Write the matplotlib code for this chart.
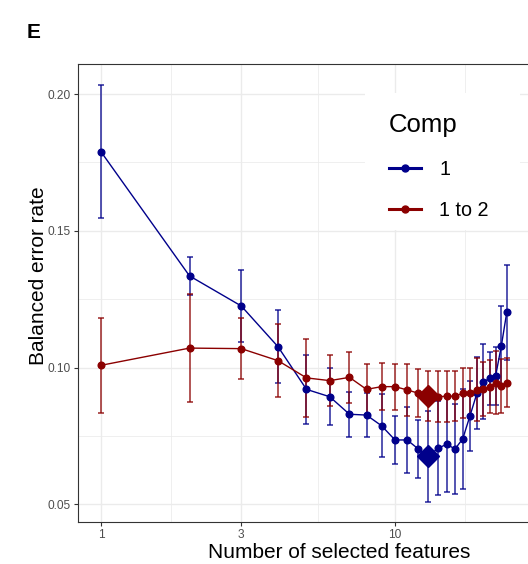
import matplotlib.pyplot as plt
from matplotlib.lines import Line2D
from matplotlib.patches import Rectangle
from matplotlib.ticker import FixedLocator, NullFormatter

plt.rcParams['font.family'] = ['Liberation Sans', 'DejaVu Sans']

# numero de variables seleccionadas
n_features = list(range(1, 25))

# Comp 1
comp1_mean = [0.1789, 0.1335, 0.1225, 0.1076, 0.0920, 0.0893, 0.0829, 0.0826,
              0.0787, 0.0735, 0.0735, 0.0702, 0.0675, 0.0705, 0.0719, 0.0702,
              0.0739, 0.0824, 0.0906, 0.0948, 0.0960, 0.0970, 0.1079, 0.1202]
comp1_sd = [0.0244, 0.0068, 0.0131, 0.0133, 0.0127, 0.0105, 0.0082, 0.0079,
            0.0115, 0.0089, 0.0122, 0.0106, 0.0166, 0.0171, 0.0175, 0.0165,
            0.0183, 0.0128, 0.0131, 0.0137, 0.0097, 0.0106, 0.0147, 0.0173]

# Comp 1 to 2
comp2_mean = [0.1008, 0.1071, 0.1069, 0.1025, 0.0962, 0.0952, 0.0964, 0.0920,
              0.0930, 0.0930, 0.0918, 0.0906, 0.0896, 0.0893, 0.0895, 0.0895,
              0.0906, 0.0908, 0.0918, 0.0920, 0.0930, 0.0944, 0.0933, 0.0944]
comp2_sd = [0.0173, 0.0199, 0.0111, 0.0134, 0.0142, 0.0092, 0.0093, 0.0091,
            0.0085, 0.0084, 0.0095, 0.0087, 0.0093, 0.0093, 0.0093, 0.0092,
            0.0092, 0.0089, 0.0115, 0.0099, 0.0097, 0.0115, 0.0098, 0.0090]

# numero optimo de variables
best_n = 13

series = [('1', comp1_mean, comp1_sd, '#00008B'),
          ('1 to 2', comp2_mean, comp2_sd, '#8B0000')]

fig = plt.figure(figsize=(5.28, 5.64), dpi=100)
# el panel sigue a la derecha fuera de la imagen (recortada)
ax = fig.add_axes([78.3 / 528, 42.3 / 564, (595 - 78.3) / 528, 457.4 / 564])

ax.set_xscale('log')
ax.set_xlim(0.837, 47.9)
ax.set_ylim(0.0436, 0.2109)

ax.xaxis.set_major_locator(FixedLocator([1, 3, 10]))
ax.xaxis.set_minor_locator(FixedLocator([3 ** 0.5, 30 ** 0.5, 300 ** 0.5]))
ax.xaxis.set_major_formatter(plt.FuncFormatter(lambda v, p: f'{v:g}'))
ax.xaxis.set_minor_formatter(NullFormatter())
ax.set_yticks([0.05, 0.10, 0.15, 0.20])
ax.set_yticklabels(['0.05', '0.10', '0.15', '0.20'])
ax.set_yticks([0.075, 0.125, 0.175], minor=True)

ax.grid(True, which='major', color='#EBEBEB', lw=1.0)
ax.grid(True, which='minor', color='#EBEBEB', lw=0.55)
ax.set_axisbelow(True)
ax.tick_params(which='major', length=2.9, width=0.8, color='#333333',
               labelsize=8.6, labelcolor='#4D4D4D', pad=2.5)
ax.tick_params(which='minor', length=0)
for s in ax.spines.values():
    s.set_color('#333333')
    s.set_linewidth(0.8)

for label, mean, sd, color in series:
    ax.errorbar(n_features, mean, yerr=sd, fmt='none', ecolor=color,
                elinewidth=1.1, capsize=2.3, capthick=1.1, alpha=0.85)
for label, mean, sd, color in series:
    ax.plot(n_features, mean, color=color, lw=1.0, marker='o', ms=4.8)
    i = n_features.index(best_n)
    ax.plot(n_features[i], mean[i], marker='D', ms=11, color=color, zorder=5)

ax.set_xlabel('Number of selected features', fontsize=15.0, va='top')
ax.xaxis.set_label_coords((339.6 - 78.3) / 516.7, (20.5 - 42.3) / 457.4)
ax.set_ylabel('Balanced error rate', fontsize=15.0, va='bottom')
ax.yaxis.set_label_coords((48.5 - 78.3) / 516.7, (288 - 42.3) / 457.4)

# leyenda dentro del panel con fondo blanco
fig.add_artist(Rectangle((365 / 528, 1 - 230 / 564), 155 / 528, 137 / 564,
                         transform=fig.transFigure, facecolor='white',
                         edgecolor='none', zorder=10))
handles = [Line2D([], [], color=c, lw=2.2, marker='o', ms=5) for _, _, _, c in series]
leg = fig.legend(handles, [s[0] for s in series], title='Comp', loc='upper left',
                 bbox_to_anchor=(389 / 528, 1 - 113 / 564),
                 fontsize=14.2, title_fontsize=18.5, frameon=False,
                 handlelength=1.62, handletextpad=0.93, labelspacing=1.15,
                 borderpad=0, borderaxespad=0)
leg._legend_box.align = 'left'
leg.set_zorder(11)

fig.text(27 / 528, 1 - 23 / 564, 'E', fontsize=15, fontweight='bold', va='top', ha='left')

plt.savefig('out.png', dpi=100)
